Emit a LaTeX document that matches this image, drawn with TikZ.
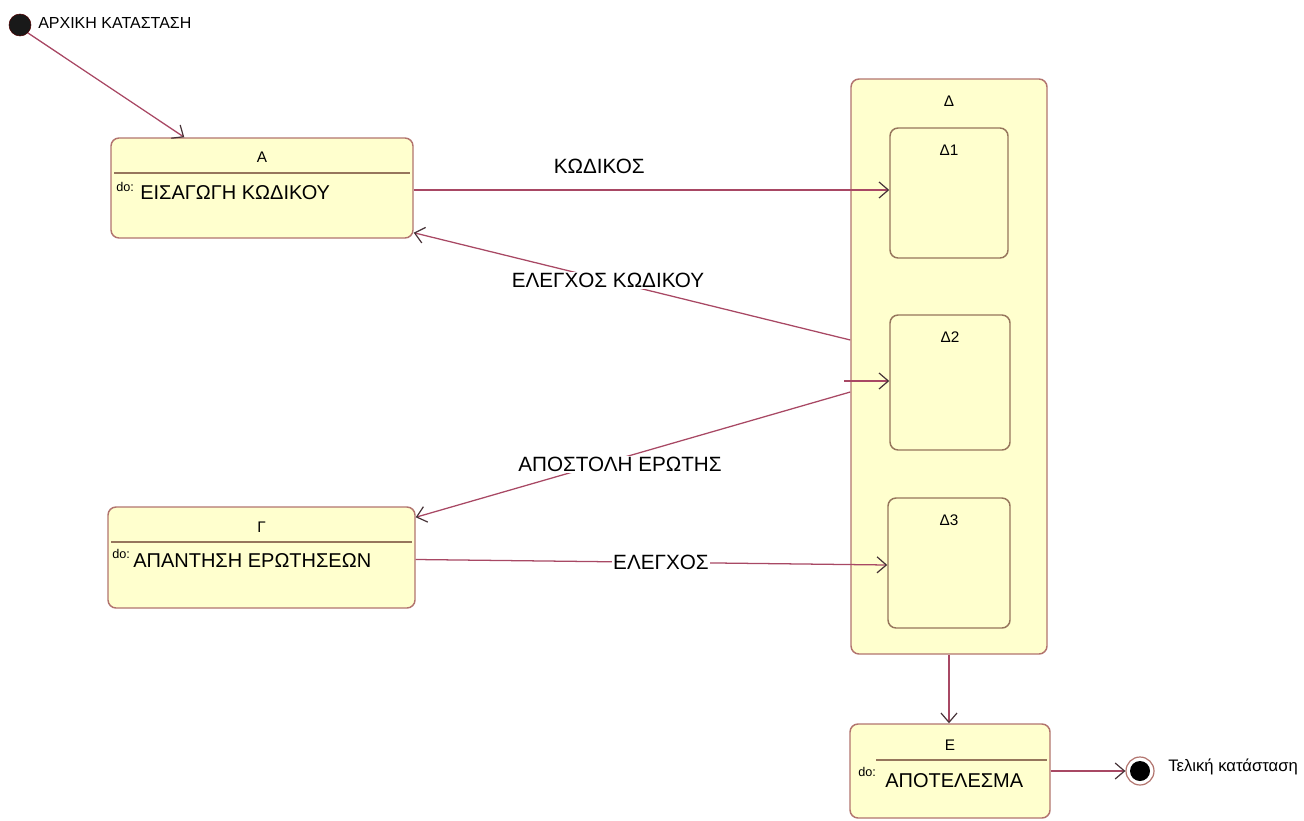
\documentclass[tikz,border=0pt]{standalone}
\usepackage{fontspec}
\setmainfont{Liberation Sans}
\usetikzlibrary{arrows.meta,calc}
\definecolor{statefill}{RGB}{255,255,206}
\definecolor{stateedge}{RGB}{178,116,110}
\definecolor{subedge}{RGB}{150,118,92}
\definecolor{trline}{RGB}{168,72,100}
\definecolor{tiparrow}{RGB}{70,50,55}
\tikzset{
  state/.style={draw=stateedge, fill=statefill, line width=1.1pt, rounded corners=6pt, inner sep=0pt},
  substate/.style={draw=subedge, fill=statefill, line width=1.1pt, rounded corners=6pt, inner sep=0pt},
  ttl/.style={font=\fontsize{11.5}{13}\selectfont, inner sep=0pt},
  act/.style={font=\fontsize{15}{17}\selectfont, inner sep=0pt, anchor=west},
  dolbl/.style={font=\fontsize{9.5}{11}\selectfont, inner sep=0pt, anchor=west},
  sep/.style={draw=subedge, line width=1pt},
  tr/.style={draw=trline, line width=0.95pt, -{Straight Barb[length=7pt,width=12pt,color=tiparrow,line width=0.9pt]}},
  trlbl/.style={font=\fontsize{15.5}{18}\selectfont, fill=white, inner sep=1pt},
  small/.style={font=\fontsize{12}{14}\selectfont, inner sep=0pt, anchor=west}
}
\begin{document}
\begin{tikzpicture}[x=0.75pt,y=-0.75pt]
\useasboundingbox (0,0) rectangle (1304,821);

% composite state and its sub-states
\node[state, minimum width=196*0.75pt, minimum height=575*0.75pt] (D) at (949,366.5) {};
\node[ttl] (Dt) at (949,101) {Δ};
\node[substate, minimum width=118*0.75pt, minimum height=130*0.75pt] (D1) at (949,193) {};
\node[ttl] (D1t) at (949,150) {Δ1};
\node[substate, minimum width=120*0.75pt, minimum height=135*0.75pt] (D2) at (950,382.5) {};
\node[ttl] (D2t) at (950,337) {Δ2};
\node[substate, minimum width=122*0.75pt, minimum height=130*0.75pt] (D3) at (949,563) {};
\node[ttl] (D3t) at (949,520) {Δ3};

% state A
\node[state, minimum width=302*0.75pt, minimum height=100*0.75pt] (A) at (262,188) {};
\node[ttl] (At) at (262,157) {Α};
\draw[sep] (114,173) -- (410,173);
\node[dolbl] (Ado) at (116,187) {do:};
\node[act] (Aact) at (140,193) {ΕΙΣΑΓΩΓΗ ΚΩΔΙΚΟΥ};

% state Γ
\node[state, minimum width=307*0.75pt, minimum height=101*0.75pt] (G) at (261.5,557.5) {};
\node[ttl] (Gt) at (261.5,527) {Γ};
\draw[sep] (111,542) -- (412,542);
\node[dolbl] (Gdo) at (112,554) {do:};
\node[act] (Gact) at (133,561) {ΑΠΑΝΤΗΣΗ ΕΡΩΤΗΣΕΩΝ};

% state Ε
\node[state, minimum width=200*0.75pt, minimum height=94*0.75pt] (E) at (950,771) {};
\node[ttl] (Et) at (950,745) {Ε};
\draw[sep] (876,760) -- (1047,760);
\node[dolbl] (Edo) at (858,772) {do:};
\node[act] (Eact) at (885,781) {ΑΠΟΤΕΛΕΣΜΑ};

% initial and final pseudo-states
\node[circle, fill=black!90, draw=black!70!red, minimum size=22*0.75pt, inner sep=0pt] (init) at (20,25) {};
\node[small] (initl) at (38,23) {ΑΡΧΙΚΗ ΚΑΤΑΣΤΑΣΗ};
\node[circle, draw=stateedge, fill=white, line width=0.9pt, minimum size=28*0.75pt, inner sep=0pt] (fin) at (1140,771) {};
\node[circle, fill=black, minimum size=20*0.75pt, inner sep=0pt] (finc) at (fin) {};
\node[small, font=\fontsize{12.5}{14}\selectfont] (finl) at (1168,767) {Τελική κατάσταση};

% transitions
\draw[tr] (init.south east) -- ($(A.north west)+(74,0)$);
\draw[tr] ($(A.east)+(0,2)$) -- ($(D1.west)+(0,-3)$)
  node[trlbl, pos=0.39, yshift=18pt, fill=none] (l1) {ΚΩΔΙΚΟΣ};
\draw[tr] ($(D.west)+(0,-26.5)$) -- ($(A.south east)+(0,-6)$)
  node[trlbl, pos=0.555] (l2) {ΕΛΕΓΧΟΣ ΚΩΔΙΚΟΥ};
\draw[tr] ($(D2.west)+(-45,-1.5)$) -- ($(D2.west)+(0,-1.5)$);
\draw[tr] ($(D.west)+(0,25.5)$) -- ($(G.north east)+(0,11)$)
  node[trlbl, pos=0.53, yshift=-4.5pt] (l3) {ΑΠΟΣΤΟΛΗ ΕΡΩΤΗΣ};
\draw[tr] ($(G.east)+(0,2)$) -- ($(D3.west)+(0,2)$)
  node[trlbl, pos=0.52] (l4) {ΕΛΕΓΧΟΣ};
\draw[tr] (D.south) -- (D.south |- E.north);
\draw[tr] (E.east) -- (fin.west);
\end{tikzpicture}
\end{document}
